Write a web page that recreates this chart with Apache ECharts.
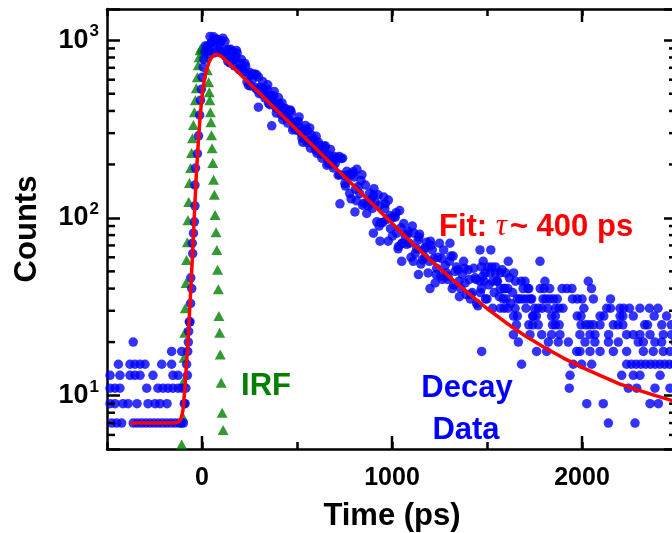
<!DOCTYPE html>
<html><head><meta charset="utf-8">
<script src="https://cdn.jsdelivr.net/npm/echarts@6/dist/echarts.min.js"></script>
<style>html,body{margin:0;padding:0;background:#fff}#c{width:672px;height:533px}</style>
</head><body><div id="c"></div>
<script>
// ---------- axis ranges & ticks ----------
const X_MIN = -500, X_MAX = 2500, Y_MIN = 5, Y_MAX = 1500;
const xMajorTicks = [0, 1000, 2000];
const yMinorTicks = [6, 7, 8, 9, 20, 30, 40, 50, 60, 70, 80, 90, 200, 300, 400, 500, 600, 700, 800, 900];

// ---------- IRF (green triangles) ----------
const irfData = [[-107,5.3],[-101,7.6],[-98,12],[-95,16.3],[-91,22.6],[-88,31],[-84,43],[-81,58],[-77,73],[-74,97],[-70,123],[-66,157],[-60,191],[-55,232],[-50,281],[-45,333],[-40,394],[-35,460],[-30,537],[-25,620],[-20,724],[-15,803],[-10,879],[-4,905],[4,885],[10,845],[16,803],[28,678],[35,581],[38,510],[41,460],[44,394],[47,346],[50,292],[53,247],[57,204],[61,164],[65,135],[69,104],[74,83],[78,66],[82,51],[86,39.6],[89,28],[93,22.6],[96,17],[101,11.8],[106,8.0],[111,6.4]];

// ---------- decay data (blue dots) ----------
const baseLevels = [7, 9, 11, 13, 15, 17.7, 20];
const baseTimes = [
  [-475,-449,-423,-362,-340,-318,-296,-274,-252,-230,-208,-186,-164,-142,-120,-108],
  [-484,-458,-416,-389,-342,-284,-247,-221,-184],
  [-484,-458,-432,-291,-232,-205,-179,-153,-126,-105],
  [-484,-432,-379,-353,-326,-258,-153,-126],
  [-440,-379,-353,-326,-300,-212,-160],
  [-160,-107],
  [-362]
];
const riseData = [[-98,7],[-93,9],[-89,9],[-85,11],[-81,15],[-77,13],[-75,17.7],[-72,20],[-70,23],[-67,26],[-63,26],[-60,33],[-59,46],[-54,40],[-51,72],[-49,63],[-45,82],[-40,95],[-37,117],[-37,153],[-34,191],[-24,230],[-18,290],[-12,379],[-8,460],[-3,530],[1,620],[6,705],[10,780],[15,860]];
const decayEarlyA = [[20,933],[35,871],[50,966],[65,849],[80,1012],[95,920],[110,1028],[125,813],[140,887],[155,802],[170,718],[185,847],[200,741],[215,664],[230,714],[245,557],[260,643],[275,646],[290,527],[305,543],[320,586],[335,491],[350,442],[365,488],[380,515],[395,413],[410,426],[425,357],[440,413],[455,363],[470,392],[485,321],[500,347],[515,319],[530,267],[545,331],[560,272],[575,293],[590,270],[605,231],[620,256],[635,230],[650,254],[665,203],[680,210],[695,222]];
const decayEarlyB = [[27,920],[42,1050],[57,930],[72,1016],[87,871],[102,995],[117,843],[132,879],[147,745],[162,863],[177,809],[192,692],[207,780],[222,667],[237,583],[252,658],[267,603],[282,540],[297,622],[312,509],[327,525],[342,530],[357,434],[372,458],[387,421],[402,476],[417,381],[432,412],[447,370],[462,400],[477,313],[492,346],[507,348],[522,299],[537,316],[552,265],[567,321],[582,263],[597,242],[612,267],[627,229],[642,254],[657,198],[672,224],[687,201],[702,203]];
const decayEarlyC = [[31,836],[46,962],[61,1047],[76,863],[91,971],[106,861],[121,984],[136,760],[151,889],[166,778],[181,877],[196,684],[211,703],[226,740],[241,618],[256,553],[271,638],[286,641],[301,500],[316,540],[331,474],[346,561],[361,460],[376,485],[391,389],[406,440],[421,444],[436,372],[451,342],[466,405],[481,348],[496,312],[511,370],[526,282],[541,305],[556,308],[571,247],[586,279],[601,288],[616,236],[631,217],[646,245],[661,215],[676,243],[691,191]];
const decayMidA = [[710,218],[725,175],[740,217],[755,151],[770,175],[785,128],[800,170],[815,188],[830,137],[845,118],[860,153],[875,117],[890,126],[905,146],[920,95],[935,118],[950,94],[965,120],[980,74],[995,99],[1010,102],[1025,82],[1040,110],[1055,72],[1070,79],[1085,84],[1100,60],[1115,82],[1130,67],[1145,81],[1160,58],[1175,68],[1190,49],[1205,70],[1220,59],[1235,52],[1250,72],[1265,45],[1280,54],[1295,47],[1310,61],[1325,42],[1340,53],[1355,36],[1370,48],[1385,43],[1400,51],[1415,37],[1430,52],[1445,33]];
const decayMidB = [[717,174],[732,216],[747,173],[762,183],[777,137],[792,177],[807,145],[822,150],[837,162],[852,121],[867,106],[882,138],[897,113],[912,122],[927,135],[942,94],[957,131],[972,98],[987,103],[1002,79],[1017,101],[1032,67],[1047,88],[1062,93],[1077,71],[1092,72],[1107,90],[1122,63],[1137,75],[1152,55],[1167,66],[1182,73],[1197,57],[1212,66],[1227,43],[1242,60],[1257,47],[1272,66],[1287,49],[1302,57],[1317,40],[1332,50],[1347,51],[1362,40],[1377,57],[1392,37],[1407,45],[1422,38],[1437,46],[1452,32]];
const decayMidC = [[722,222],[752,156],[782,174],[812,125],[842,175],[872,123],[902,134],[932,90],[962,113],[992,87],[1022,107],[1052,72],[1082,81],[1112,57],[1142,78],[1172,60],[1202,74],[1232,48],[1262,59],[1292,45],[1322,61],[1352,44],[1382,52],[1412,35],[1442,45]];
const decayOutliers = [[297,420],[367,330],[726,120],[796,182],[805,108],[902,82],[937,74],[981,126],[1034,69],[1051,57],[1139,48],[1200,40],[1305,72]];
const tailCloud = [[1465,38],[1478,47],[1492,35],[1510,42],[1525,53],[1538,38],[1552,44],[1565,36],[1580,51],[1595,40],[1618,46],[1625,33],[1635,38],[1648,31],[1672,35],[1680,44],[1705,31],[1715,40],[1735,35],[1745,28],[1770,25],[1795,35],[1820,31],[1845,25],[1870,35]];
const tailLevels = [66, 57, 53, 49, 44, 40, 35, 31, 28, 25, 22, 20, 17.7, 15, 13, 11, 9, 7];
const tailTimes = [
  [1463,1520],
  [1480,1612,1779],
  [1470,1505,1545],
  [1490,1516,1545,1570,1598,1640],
  [1463,1485,1530,1555,1650,1700,1805,2033],
  [1470,1570,1590,1610,1690,1720,1780,1800,1830,1895,1920,1947,2050],
  [1500,1585,1600,1660,1690,1710,1730,1810,1830,1850,1950,1975,2000,2060,2150],
  [1530,1570,1590,1610,1750,1770,1790,1860,1880,1900,2010,2130,2150,2200,2220,2250,2305,2355,2400],
  [1640,1660,1740,1760,1840,1860,1975,1995,2095,2115,2200,2215,2270,2380,2445],
  [1655,1720,1740,1860,1880,1995,2020,2040,2060,2095,2165,2190,2215,2330,2345,2420,2470],
  [1639,1726,1788,1840,1884,1989,2042,2068,2140,2235,2270,2305,2358,2428,2472],
  [1665,1823,1875,1928,2016,2068,2139,2191,2296,2323,2384,2419,2490],
  [1472,1761,1814,1972,1989,2042,2095,2165,2235,2323,2375,2428,2463],
  [1682,1954,1998,2051,2235,2260,2285,2310,2335,2360,2385,2410,2435,2460,2485],
  [1937,2209,2270,2305,2411],
  [1933,2244,2288,2384,2463],
  [2025,2112,2358,2402],
  [2139,2279]
];

// ---------- fit (red line) ----------
const fitData = [[-370,7],[-250,7],[-150,7],[-125,7.1],[-110,7.4],[-100,8.3],[-90,11],[-80,16],[-70,24],[-60,38],[-50,62],[-40,105],[-30,175],[-20,260],[-10,370],[0,480],[10,580],[20,660],[35,745],[50,800],[65,828],[80,832],[100,815],[140,745],[200,645],[250,571],[300,506],[350,448],[400,397],[450,352],[500,312],[600,245],[700,192],[800,151],[900,119],[1000,93.2],[1100,73.1],[1200,58.1],[1300,46.7],[1400,37.8],[1500,30.9],[1600,25.7],[1700,21.7],[1800,18.7],[1900,16.3],[2000,14.4],[2100,12.9],[2200,11.6],[2300,10.7],[2400,9.9],[2500,9.2]];

// ---------- build ----------
const F = '"Liberation Sans", Arial, Helvetica, sans-serif';
const decayData = [];
baseLevels.forEach((v, i) => baseTimes[i].forEach(t => decayData.push([t, v])));
riseData.concat(decayEarlyA, decayEarlyB, decayEarlyC, decayMidA, decayMidB, decayMidC, decayOutliers, tailCloud)
  .forEach(p => decayData.push(p));
tailLevels.forEach((v, i) => tailTimes[i].forEach(t => decayData.push([t, v])));

const tickData = [];
xMajorTicks.forEach(t => { tickData.push([t, Y_MIN, 0]); tickData.push([t, Y_MAX, 1]); });
yMinorTicks.forEach(v => { tickData.push([X_MIN, v, 2]); tickData.push([X_MAX, v, 3]); });

const AX = '#000', LW = 2.5;
const chart = echarts.init(document.getElementById('c'), null, {renderer: 'canvas'});
const xCommon = {
  type: 'value', min: X_MIN, max: X_MAX, interval: 500,
  axisLine: {show: true, onZero: false, lineStyle: {color: AX, width: LW}},
  axisTick: {show: true, inside: true, length: 7, lineStyle: {color: AX, width: LW}},
  splitLine: {show: false}
};
const yCommon = {
  type: 'log', logBase: 10, min: Y_MIN, max: Y_MAX,
  axisLine: {show: true, onZero: false, lineStyle: {color: AX, width: LW}},
  axisTick: {show: true, inside: true, length: 13, lineStyle: {color: AX, width: LW}},
  splitLine: {show: false}, minorTick: {show: false}
};
const isDecade = v => Math.abs(Math.log10(v) - Math.round(Math.log10(v))) < 1e-6;

chart.setOption({
  animation: false,
  backgroundColor: '#fff',
  grid: {left: 107, top: 9, width: 570, height: 440, containLabel: false, outerBoundsMode: 'none'},
  xAxis: [
    Object.assign({}, xCommon, {
      position: 'bottom',
      axisLabel: {formatter: v => (v % 1000 === 0 ? String(v) : ''), fontSize: 25, fontWeight: 'bold', fontFamily: F, color: '#000', margin: 17, showMinLabel: true, showMaxLabel: true},
      name: 'Time (ps)', nameLocation: 'middle', nameGap: 52,
      nameTextStyle: {fontSize: 31, fontWeight: 'bold', fontFamily: F, color: '#000'}
    }),
    Object.assign({}, xCommon, {position: 'top', axisLabel: {show: false}})
  ],
  yAxis: [
    Object.assign({}, yCommon, {
      position: 'left',
      axisLabel: {
        formatter: v => isDecade(v) ? '{b|10}{s|' + Math.round(Math.log10(v)) + '}' : '',
        margin: 8,
        rich: {
          b: {fontSize: 27, fontWeight: 'bold', fontFamily: F, color: '#000'},
          s: {fontSize: 17, fontWeight: 'bold', fontFamily: F, color: '#000', padding: [0, 0, 17, 1]}
        }
      },
      name: 'Counts', nameLocation: 'middle', nameGap: 64, nameRotate: 90,
      nameTextStyle: {fontSize: 31, fontWeight: 'bold', fontFamily: F, color: '#000'}
    }),
    Object.assign({}, yCommon, {position: 'right', axisLabel: {show: false}})
  ],
  series: [
    {type: 'scatter', name: 'IRF', data: irfData, symbol: 'triangle', symbolSize: [11, 10],
     itemStyle: {color: '#008000'}, silent: true, z: 2},
    {type: 'scatter', name: 'Decay', data: decayData, symbol: 'circle', symbolSize: 9.5,
     itemStyle: {color: '#0000ff'}, silent: true, z: 3},
    {type: 'line', name: 'Fit', data: fitData, showSymbol: false, smooth: false,
     lineStyle: {color: '#ff0000', width: 3.5, join: 'round', cap: 'round'}, silent: true, z: 4},
    {type: 'custom', name: 'ticks', data: tickData, silent: true, z: 6, clip: false,
     renderItem: function (params, api) {
       const kind = api.value(2);
       const p = api.coord([api.value(0), api.value(1)]);
       let s;
       if (kind === 0) s = {x1: p[0], y1: p[1], x2: p[0], y2: p[1] - 13};
       else if (kind === 1) s = {x1: p[0], y1: p[1], x2: p[0], y2: p[1] + 13};
       else if (kind === 2) s = {x1: p[0], y1: p[1], x2: p[0] + 8, y2: p[1]};
       else s = {x1: p[0], y1: p[1], x2: p[0] - 8, y2: p[1]};
       return {type: 'line', shape: s, style: {stroke: AX, lineWidth: LW}};
     }}
  ],
  graphic: [
    {type: 'text', x: 266, y: 386, z: 100, style: {text: 'IRF', fill: '#008000', font: 'bold 31px ' + F, align: 'center', verticalAlign: 'middle'}},
    {type: 'text', x: 467, y: 388, z: 100, style: {text: 'Decay', fill: '#0000ff', font: 'bold 31px ' + F, align: 'center', verticalAlign: 'middle'}},
    {type: 'text', x: 466, y: 430, z: 100, style: {text: 'Data', fill: '#0000ff', font: 'bold 31px ' + F, align: 'center', verticalAlign: 'middle'}},
    {type: 'text', x: 439, y: 227, z: 100, style: {
      text: '{a|Fit: }{t|τ}{a|~ 400 ps}', align: 'left', verticalAlign: 'middle', fill: '#ff0000',
      rich: {
        a: {fontSize: 31, fontWeight: 'bold', fontFamily: F, fill: '#ff0000'},
        t: {fontSize: 31, fontStyle: 'italic', fontWeight: 'normal', fontFamily: '"Liberation Serif", "Times New Roman", serif', fill: '#ff0000', padding: [0, 3, 0, 0]}
      }}}
  ]
});
</script></body></html>
